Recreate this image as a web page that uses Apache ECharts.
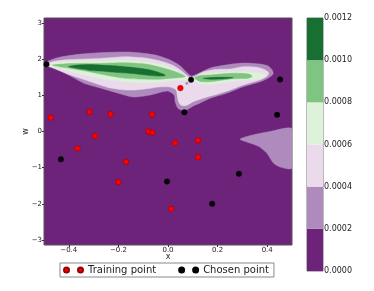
<!DOCTYPE html>
<html><head><meta charset="utf-8">
<script src="https://cdn.jsdelivr.net/npm/echarts@6/dist/echarts.min.js"></script>
<style>html,body{margin:0;padding:0;background:#fff}#c{width:374px;height:291px}</style>
</head><body><div id="c"></div>
<script>
// ---- data ----
const levels = [0, 0.0002, 0.0004, 0.0006, 0.0008, 0.0010, 0.0012];
const bandColors = ['#6d237a', '#ae8abd', '#eadaeb', '#def1d9', '#80c481', '#176f32'];
const xTicks = [-0.4, -0.2, 0, 0.2, 0.4];
const wTicks = [-3, -2, -1, 0, 1, 2, 3];
const xRange = [-0.5, 0.5];
const wRange = [-3.14, 3.14];

const trainX = [-0.473, -0.316, -0.232, -0.064, 0.05, -0.294, -0.079, -0.063, 0.029, -0.365, -0.169, -0.2, 0.013, 0.121, 0.121];
const trainW = [0.386, 0.54, 0.48, 0.47, 1.2, -0.12, 0.0, -0.03, -0.32, -0.47, -0.84, -1.40, -2.14, -0.25, -0.71];
const chosenX = [-0.49, 0.093, 0.066, 0.452, 0.44, -0.432, -0.004, 0.286, 0.178];
const chosenW = [1.86, 1.43, 0.53, 1.44, 0.46, -0.77, -1.385, -1.17, -2.0];

// contour band outlines (x, w), band >= levels[k]
const band1Main = [[-0.498,1.865],[-0.474,1.975],[-0.434,2.058],[-0.353,2.141],[-0.273,2.182],[-0.152,2.196],[-0.051,2.113],[0.009,1.975],[0.050,1.810],[0.074,1.645],[0.094,1.534],[0.118,1.590],[0.170,1.755],[0.231,1.837],[0.303,1.893],[0.372,1.865],[0.404,1.810],[0.420,1.700],[0.424,1.590],[0.404,1.479],[0.372,1.377],[0.303,1.240],[0.239,1.066],[0.170,0.920],[0.130,0.791],[0.102,0.708],[0.082,0.625],[0.062,0.584],[0.041,0.639],[0.029,0.818],[0.025,1.011],[-0.003,1.121],[-0.071,1.011],[-0.140,0.956],[-0.204,1.066],[-0.273,1.204],[-0.341,1.342],[-0.393,1.534],[-0.454,1.755]];
const band1LowerRight = [[0.291,-0.21],[0.345,-0.09],[0.412,0.0],[0.5,0.07],[0.5,-1.01],[0.452,-0.98],[0.425,-0.87],[0.399,-0.6],[0.365,-0.41],[0.318,-0.29]];
const band2Main = [[-0.494,1.851],[-0.454,1.948],[-0.393,1.989],[-0.273,2.022],[-0.172,2.066],[-0.091,2.030],[-0.031,1.948],[0.017,1.837],[0.050,1.700],[0.074,1.562],[0.090,1.493],[0.110,1.534],[0.142,1.645],[0.190,1.713],[0.251,1.727],[0.303,1.791],[0.351,1.782],[0.384,1.727],[0.404,1.645],[0.404,1.562],[0.380,1.452],[0.351,1.383],[0.303,1.287],[0.251,1.149],[0.202,1.039],[0.158,0.956],[0.102,0.826],[0.074,0.722],[0.054,0.722],[0.043,0.818],[0.037,1.011],[0.033,1.149],[0.009,1.231],[-0.039,1.231],[-0.071,1.196],[-0.132,1.149],[-0.172,1.149],[-0.232,1.204],[-0.273,1.287],[-0.333,1.424],[-0.393,1.562],[-0.454,1.727]];
const band1Spot = [[0.070,1.333],[0.076,1.37],[0.082,1.333],[0.076,1.296]];
const band3Left = [[-0.494,1.851],[-0.434,1.920],[-0.353,1.948],[-0.273,1.948],[-0.172,1.975],[-0.071,1.906],[-0.011,1.824],[0.041,1.658],[0.084,1.466],[0.074,1.410],[0.041,1.424],[-0.011,1.383],[-0.071,1.350],[-0.172,1.377],[-0.273,1.471],[-0.353,1.590],[-0.413,1.700],[-0.466,1.782]];
const band3Right = [[0.100,1.466],[0.130,1.576],[0.170,1.609],[0.251,1.653],[0.303,1.653],[0.351,1.631],[0.384,1.590],[0.396,1.534],[0.380,1.479],[0.351,1.438],[0.303,1.424],[0.251,1.377],[0.170,1.300],[0.130,1.314],[0.106,1.397]];
const band4Left = [[-0.466,1.837],[-0.393,1.879],[-0.273,1.884],[-0.172,1.901],[-0.091,1.865],[-0.039,1.791],[0.009,1.700],[0.050,1.598],[0.070,1.521],[0.050,1.493],[0.001,1.466],[-0.039,1.444],[-0.112,1.452],[-0.172,1.471],[-0.232,1.534],[-0.273,1.590],[-0.333,1.672],[-0.393,1.741],[-0.442,1.796]];
const band4Right = [[0.106,1.493],[0.130,1.548],[0.170,1.562],[0.251,1.609],[0.303,1.609],[0.331,1.576],[0.339,1.521],[0.323,1.471],[0.303,1.466],[0.251,1.452],[0.170,1.377],[0.130,1.383],[0.114,1.438]];
const band5Left = [[-0.401,1.796],[-0.365,1.837],[-0.313,1.851],[-0.273,1.837],[-0.204,1.810],[-0.140,1.769],[-0.071,1.700],[-0.019,1.590],[-0.011,1.548],[-0.031,1.534],[-0.071,1.548],[-0.140,1.603],[-0.204,1.631],[-0.273,1.672],[-0.313,1.686],[-0.333,1.713],[-0.365,1.741]];
const band5Right = [[0.142,1.471],[0.190,1.499],[0.263,1.493],[0.231,1.457],[0.170,1.444]];

// drawing order: [band index, outline]
const shapes = [
  [1, band1Main], [1, band1LowerRight],
  [2, band2Main], [1, band1Spot],
  [3, band3Left], [3, band3Right],
  [4, band4Left], [4, band4Right],
  [5, band5Left], [5, band5Right]
];

const FONT = 'DejaVu Sans';
const minus = s => s.replace('-', '\u2212');
const twoDots = 'path://M0,2.5A2.5,2.5 0 1,0 5,2.5A2.5,2.5 0 1,0 0,2.5Z M14,2.5A2.5,2.5 0 1,0 19,2.5A2.5,2.5 0 1,0 14,2.5Z';

const chart = echarts.init(document.getElementById('c'), null, {renderer: 'canvas'});
chart.setOption({
  animation: false,
  backgroundColor: '#fff',
  grid: [
    {left: 44, top: 18, width: 248, height: 227, show: true, backgroundColor: bandColors[0], borderColor: '#555', borderWidth: 1},
    {left: 307, top: 18, width: 16, height: 253, show: true, backgroundColor: 'transparent', borderColor: '#777', borderWidth: 1}
  ],
  xAxis: [
    {gridIndex: 0, type: 'value', min: xRange[0], max: xRange[1],
      name: 'x', nameLocation: 'middle', nameGap: 8, nameMoveOverlap: false,
      nameTextStyle: {fontFamily: FONT, fontSize: 8, color: '#222'},
      axisLine: {show: false, onZero: false}, splitLine: {show: false},
      axisTick: {show: true, length: 2, customValues: xTicks, lineStyle: {color: '#333'}},
      axisLabel: {customValues: xTicks, margin: 2, fontFamily: FONT, fontSize: 7, color: '#222',
        formatter: v => minus(v.toFixed(1))}},
    {gridIndex: 1, type: 'value', min: 0, max: 1, show: false}
  ],
  yAxis: [
    {gridIndex: 0, type: 'value', min: wRange[0], max: wRange[1],
      name: 'w', nameLocation: 'middle', nameGap: 14, nameMoveOverlap: false,
      nameTextStyle: {fontFamily: FONT, fontSize: 8, color: '#222'},
      axisLine: {show: false, onZero: false}, splitLine: {show: false},
      axisTick: {show: true, length: 2, customValues: wTicks, lineStyle: {color: '#333'}},
      axisLabel: {customValues: wTicks, margin: 2, fontFamily: FONT, fontSize: 7, color: '#222',
        formatter: v => minus(String(Math.round(v)))}},
    {gridIndex: 1, type: 'value', min: levels[0], max: levels[levels.length - 1], interval: levels[1] - levels[0],
      position: 'right', axisLine: {show: false, onZero: false}, splitLine: {show: false},
      axisTick: {show: false},
      axisLabel: {margin: 1, fontFamily: FONT, fontSize: 8, color: '#222', formatter: v => v.toFixed(4)}}
  ],
  legend: {
    left: 60, top: 263, orient: 'horizontal',
    itemWidth: 19, itemHeight: 5, itemGap: 22,
    padding: [1, 5, 1, 3],
    borderColor: '#888', borderWidth: 1, borderRadius: 0,
    textStyle: {fontFamily: FONT, fontSize: 10, color: '#222', lineHeight: 12},
    data: [{name: 'Training point', icon: twoDots}, {name: 'Chosen point', icon: twoDots}]
  },
  series: [
    {type: 'custom', xAxisIndex: 0, yAxisIndex: 0, clip: true, z: 1, silent: true,
      data: shapes.map(s => s[1][0]),
      renderItem: (params, api) => {
        const s = shapes[params.dataIndex];
        const pts = s[1].map(p => api.coord(p));
        const c = bandColors[s[0]];
        return {type: 'polygon', shape: {points: pts, smooth: 0.25},
          style: {fill: c, stroke: c, lineWidth: 0.5}};
      }},
    {type: 'custom', xAxisIndex: 1, yAxisIndex: 1, z: 1, silent: true,
      data: bandColors.map((c, i) => [0, levels[i], levels[i + 1]]),
      renderItem: (params, api) => {
        const i = params.dataIndex;
        const p0 = api.coord([0, levels[i]]);
        const p1 = api.coord([1, levels[i + 1]]);
        return {type: 'rect', shape: {x: p0[0], y: p1[1], width: p1[0] - p0[0], height: p0[1] - p1[1]},
          style: {fill: bandColors[i]}};
      }},
    {name: 'Training point', type: 'scatter', xAxisIndex: 0, yAxisIndex: 0, z: 3,
      symbolSize: 5.5, clip: false,
      itemStyle: {color: '#ff0000', borderColor: '#9a0000', borderWidth: 0.6, opacity: 1},
      data: trainX.map((x, i) => [x, trainW[i]])},
    {name: 'Chosen point', type: 'scatter', xAxisIndex: 0, yAxisIndex: 0, z: 3,
      symbolSize: 5.5, clip: false,
      itemStyle: {color: '#000000', borderColor: '#000000', borderWidth: 0.4, opacity: 1},
      data: chosenX.map((x, i) => [x, chosenW[i]])}
  ]
});
</script></body></html>
